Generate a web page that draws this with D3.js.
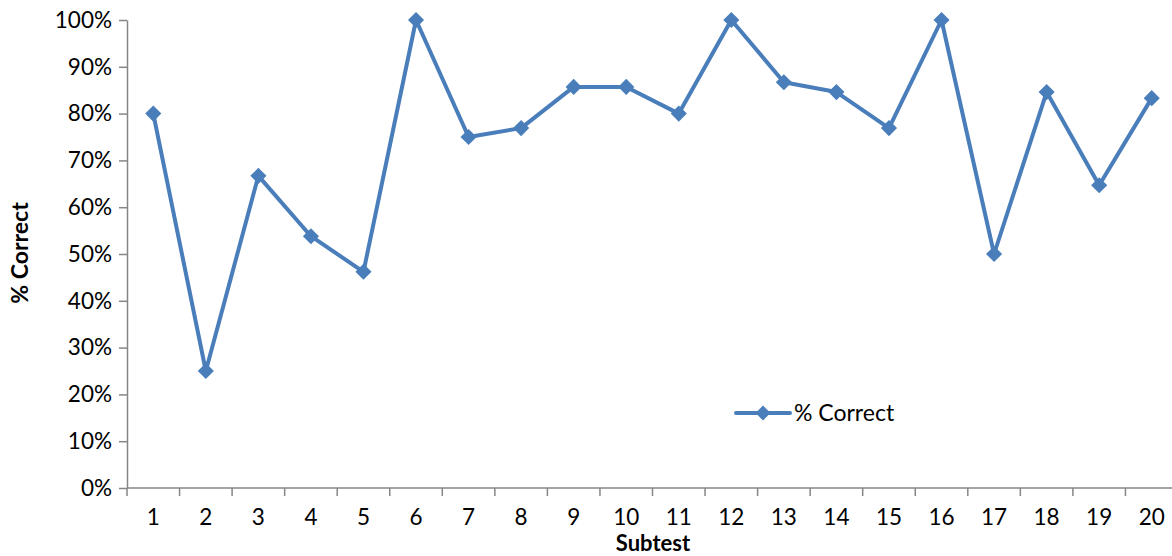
<!DOCTYPE html>
<html>
<head>
<meta charset="utf-8">
<script src="https://cdn.jsdelivr.net/npm/d3@7"></script>
<style>
  body { margin: 0; background: #fff; }
  text { font-family: Lato, "Open Sans", sans-serif; fill: #000; }
</style>
</head>
<body>
<svg id="chart"></svg>
<script>
const subtests = ['1','2','3','4','5','6','7','8','9','10','11','12','13','14','15','16','17','18','19','20'];
const pctCorrect = [0.80, 0.25, 0.667, 0.538, 0.462, 1.00, 0.75, 0.769, 0.857, 0.857,
                    0.80, 1.00, 0.867, 0.846, 0.769, 1.00, 0.50, 0.846, 0.647, 0.833];
const yTicks = [0, 0.1, 0.2, 0.3, 0.4, 0.5, 0.6, 0.7, 0.8, 0.9, 1.0];

const width = 1172;
const height = 556;
const margin = { top: 20, left: 127, bottom: 68 };
const bandW = 52.55;
const color = '#4a7ebb';
const axisColor = '#868686';

const svg = d3.select('#chart')
  .attr('width', width)
  .attr('height', height);

const xScale = d3.scaleBand()
  .domain(subtests)
  .range([margin.left, margin.left + bandW * subtests.length]);
const yScale = d3.scaleLinear()
  .domain([0, 1])
  .range([height - margin.bottom, margin.top]);

// y axis
const yAxis = svg.append('g')
  .attr('transform', `translate(${margin.left},0)`)
  .call(d3.axisLeft(yScale)
    .tickValues(yTicks)
    .tickSizeInner(8)
    .tickSizeOuter(0)
    .tickPadding(7)
    .tickFormat(d3.format('.0%')));
yAxis.select('.domain').attr('stroke', axisColor).attr('stroke-width', 1.5);
yAxis.selectAll('.tick line').attr('stroke', axisColor).attr('stroke-width', 1.5);
yAxis.selectAll('.tick text').style('font-size', '22.5px');

// x axis (ticks at band edges)
const xAxisG = svg.append('g')
  .attr('transform', `translate(0,${yScale(0)})`);
xAxisG.append('line')
  .attr('x1', margin.left)
  .attr('x2', margin.left + bandW * subtests.length)
  .attr('stroke', axisColor)
  .attr('stroke-width', 1.5);
xAxisG.selectAll('.edge')
  .data(subtests.concat(['end']))
  .enter().append('line')
    .attr('class', 'edge')
    .attr('x1', (d, i) => margin.left + i * xScale.step())
    .attr('x2', (d, i) => margin.left + i * xScale.step())
    .attr('y1', 0)
    .attr('y2', 8)
    .attr('stroke', axisColor)
    .attr('stroke-width', 1.5);
xAxisG.selectAll('.lbl')
  .data(subtests)
  .enter().append('text')
    .attr('class', 'lbl')
    .attr('x', d => xScale(d) + xScale.bandwidth() / 2)
    .attr('y', 37)
    .attr('text-anchor', 'middle')
    .style('font-size', '22.5px')
    .text(d => d);

// axis titles
svg.append('text')
  .attr('x', 653)
  .attr('y', 551)
  .attr('text-anchor', 'middle')
  .style('font-size', '22px')
  .style('font-weight', 'bold')
  .text('Subtest');
svg.append('text')
  .attr('transform', 'translate(28,253) rotate(-90)')
  .attr('text-anchor', 'middle')
  .style('font-size', '23px')
  .style('font-weight', 'bold')
  .text('% Correct');

// series
const cx = (d, i) => xScale(subtests[i]) + xScale.bandwidth() / 2;
const line = d3.line()
  .x(cx)
  .y(d => yScale(d));
svg.append('path')
  .datum(pctCorrect)
  .attr('fill', 'none')
  .attr('stroke', color)
  .attr('stroke-width', 4)
  .attr('stroke-linejoin', 'round')
  .attr('d', line);

svg.selectAll('.pt')
  .data(pctCorrect)
  .enter().append('path')
    .attr('class', 'pt')
    .attr('transform', (d, i) => `translate(${cx(d, i)},${yScale(d)}) rotate(45)`)
    .attr('d', d3.symbol().type(d3.symbolSquare).size(130))
    .attr('fill', color);

// legend
const legend = svg.append('g').attr('transform', 'translate(736,413)');
legend.append('line')
  .attr('x1', 0).attr('x2', 54)
  .attr('stroke', color)
  .attr('stroke-width', 4)
  .attr('stroke-linecap', 'round');
legend.append('path')
  .attr('transform', 'translate(27,0) rotate(45)')
  .attr('d', d3.symbol().type(d3.symbolSquare).size(110))
  .attr('fill', color);
legend.append('text')
  .attr('x', 58)
  .attr('y', 8)
  .style('font-size', '23px')
  .text('% Correct');
</script>
</body>
</html>
